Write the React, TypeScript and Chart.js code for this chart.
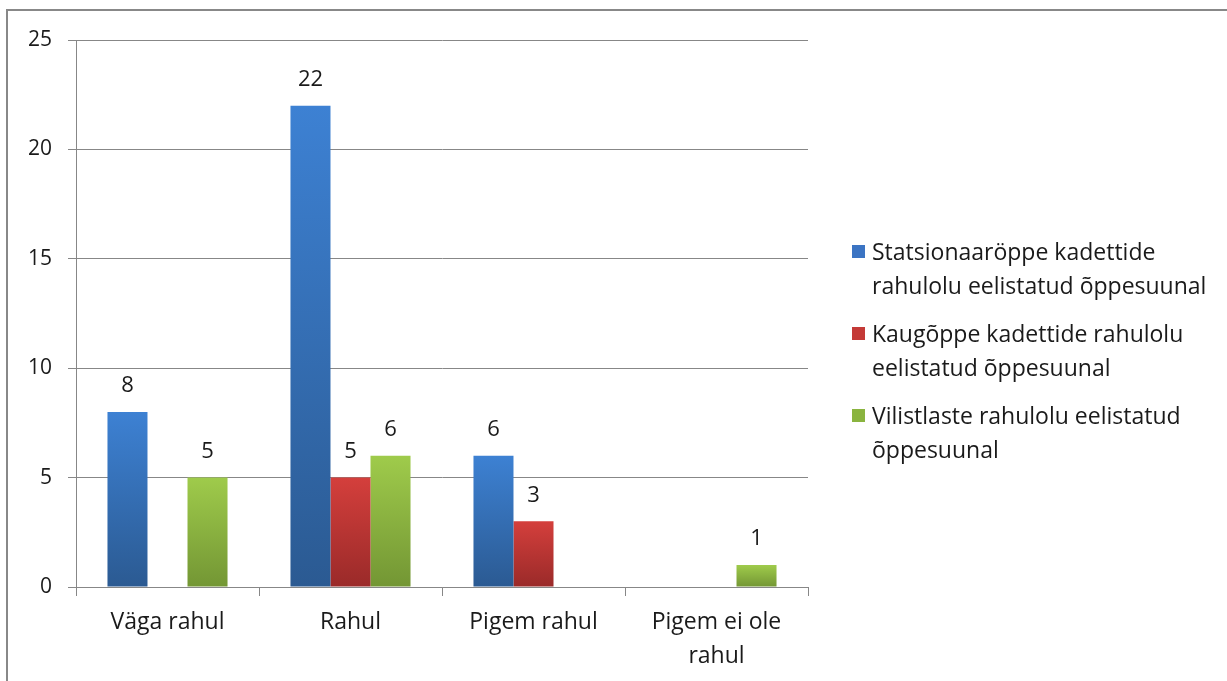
import React, { useEffect, useRef } from "react";
import { Chart, registerables } from "chart.js";

Chart.register(...registerables);

const categories: (string | string[])[] = ["Väga rahul", "Rahul", "Pigem rahul", ["Pigem ei ole", "rahul"]];
const seriesNames: string[][] = [
  ["Statsionaaröppe kadettide", "rahulolu eelistatud õppesuunal"],
  ["Kaugõppe kadettide rahulolu", "eelistatud õppesuunal"],
  ["Vilistlaste rahulolu eelistatud", "õppesuunal"],
];
const statsionaar: (number | null)[] = [8, 22, 6, null];
const kaugoppe: (number | null)[] = [null, 5, 3, null];
const vilistlased: (number | null)[] = [5, 6, null, 1];
const yTicks = { min: 0, max: 25, step: 5 };

const FONT = "'Open Sans', sans-serif";
const NSIZE = 21;
const TSIZE = 23;
const TEXT = "#1a1a1a";
const GRID = "#878787";

const gradients: [string, string][] = [
  ["#3d81d3", "#2b5a92"],
  ["#d43f3c", "#9a2a29"],
  ["#9fcb4b", "#739634"],
];
const legendColors = ["#3b74c3", "#c43a37", "#8ab43f"];

function grad(idx: number) {
  return (ctx: any) => {
    const chart = ctx.chart;
    const area = chart.chartArea;
    const ys = chart.scales && chart.scales.y;
    if (!area || !ys || ctx.raw === null || ctx.raw === undefined) return gradients[idx][0];
    const top = ys.getPixelForValue(ctx.raw);
    const bottom = ys.getPixelForValue(0);
    if (!isFinite(top) || !isFinite(bottom) || bottom - top < 1) return gradients[idx][0];
    const g = chart.ctx.createLinearGradient(0, top, 0, bottom);
    g.addColorStop(0, gradients[idx][0]);
    g.addColorStop(1, gradients[idx][1]);
    return g;
  };
}

const valueLabels = {
  id: "valueLabels",
  afterDatasetsDraw(chart: any) {
    const c = chart.ctx;
    c.save();
    c.font = `${NSIZE + 1}px ${FONT}`;
    c.fillStyle = TEXT;
    c.textAlign = "center";
    c.textBaseline = "middle";
    chart.data.datasets.forEach((ds: any, i: number) => {
      const meta = chart.getDatasetMeta(i);
      meta.data.forEach((bar: any, j: number) => {
        const v = ds.data[j];
        if (v === null || v === undefined) return;
        c.fillText(String(v), bar.x, bar.y - 26);
      });
    });
    c.restore();
  },
};

export default function App() {
  const ref = useRef<HTMLCanvasElement | null>(null);
  useEffect(() => {
    if (!ref.current) return;
    const seriesData = [statsionaar, kaugoppe, vilistlased];
    const chart = new Chart(ref.current, {
      type: "bar",
      data: {
        labels: categories as any,
        datasets: seriesData.map((d, i) => ({
          label: seriesNames[i].join(" "),
          data: d,
          backgroundColor: grad(i) as any,
          borderWidth: 0,
          categoryPercentage: 0.656,
          barPercentage: 1,
        })),
      },
      options: {
        animation: false,
        responsive: false,
        maintainAspectRatio: false,
        layout: { padding: { top: 40, right: 419, bottom: 0, left: 0 } },
        plugins: { legend: { display: false }, tooltip: { enabled: false } },
        scales: {
          x: {
            grid: { display: true, drawOnChartArea: false, tickLength: 9, color: GRID, offset: true },
            border: { display: true, color: GRID, width: 1 },
            ticks: { font: { family: FONT, size: TSIZE, lineHeight: 34 / TSIZE }, color: TEXT, padding: 9, maxRotation: 0, autoSkip: false },
            afterFit: (s: any) => { s.height = 94; },
          },
          y: {
            min: yTicks.min,
            max: yTicks.max,
            ticks: { stepSize: yTicks.step, font: { family: FONT, size: NSIZE }, color: TEXT, padding: 16 },
            grid: { color: GRID, tickLength: 8 },
            border: { display: true, color: GRID, width: 1 },
            afterFit: (s: any) => { s.width = 76; },
          },
        },
      },
      plugins: [valueLabels],
    });
    return () => chart.destroy();
  }, []);

  return (
    <div style={{ position: "fixed", left: 0, top: 0, width: 1227, height: 681, background: "#fff", overflow: "hidden" }}>
      <div style={{ position: "absolute", left: 6, top: 9, width: 1300, height: 800, border: "2px solid #888888", boxSizing: "border-box" }} />
      <canvas ref={ref} width={1227} height={681} style={{ position: "absolute", left: 0, top: 0, width: 1227, height: 681 }} />
      {seriesNames.map((lines, i) => (
        <div key={i} style={{ position: "absolute", left: 852, top: 234 + i * 82, display: "flex", alignItems: "flex-start", fontFamily: FONT, fontSize: TSIZE, lineHeight: "34px", color: TEXT }}>
          <div style={{ width: 13, height: 13, background: legendColors[i], marginTop: 11, marginRight: 7, flex: "none" }} />
          <div>
            {lines.map((l, k) => (
              <div key={k} style={{ whiteSpace: "nowrap" }}>{l}</div>
            ))}
          </div>
        </div>
      ))}
    </div>
  );
}
